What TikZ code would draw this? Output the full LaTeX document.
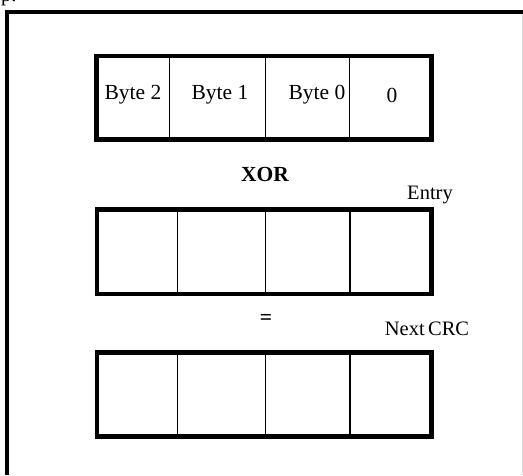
\documentclass[tikz,border=0pt]{standalone}
\usepackage{fontspec}
\setmainfont{Liberation Serif}
\begin{document}
\begin{tikzpicture}[x=1pt,y=-1pt,
  frameline/.style={line width=3.5pt,black},
  faintline/.style={line width=0.8pt,black!15},
  rowbox/.style={draw,line width=4.5pt,black},
  divider/.style={line width=1.6pt,black},
  celltext/.style={inner sep=0pt,font=\fontsize{21.5}{24}\selectfont},
  lbl/.style={inner sep=0pt,font=\fontsize{20.5}{24}\selectfont},
  op/.style={inner sep=0pt,font=\fontsize{21.5}{24}\selectfont\bfseries}]
\useasboundingbox (0,0) rectangle (523,475);
\fill[white] (0,0) rectangle (523,475);
% fragment of cut-off text at top-left
\node[lbl,anchor=base west] (frag) at (1,1) {p.};
% outer frame
\coordinate (fbl) at (7,475);
\coordinate (ftl) at (7,12);
\coordinate (ftr) at (523,12);
\draw[faintline] (522,12) -- (522,475);
\draw[frameline] (fbl) -- (ftl) -- (ftr);
% row 1
\draw[rowbox] (96.5,56) rectangle (431.5,139.5);
\draw[divider] (169.3,56) -- (169.3,139.5);
\draw[divider] (265.3,56) -- (265.3,139.5);
\draw[divider] (349.3,56) -- (349.3,139.5);
\node[celltext] (b2) at (133,95) {Byte 2};
\node[celltext] (b1) at (220,95) {Byte 1};
\node[celltext] (b0) at (317,95) {Byte 0};
\node[celltext] (z) at (392,95) {0};
% XOR
\node[op] (xor) at (265,174) {XOR};
\node[lbl,anchor=base] (entry) at (430,199.5) {Entry};
% row 2
\draw[rowbox] (97,209.5) rectangle (431.5,294);
\draw[divider] (177.3,209.5) -- (177.3,294);
\draw[divider] (265.3,209.5) -- (265.3,294);
\draw[divider] (350,209.5) -- (350,294);
% equals
\node[op] (eq) at (266,319) {=};
\node[lbl,anchor=base] (next) at (427,335) {Next\,CRC};
% row 3
\draw[rowbox] (97,352.5) rectangle (431.5,436.7);
\draw[divider] (177.3,352.5) -- (177.3,436.7);
\draw[divider] (265.3,352.5) -- (265.3,436.7);
\draw[divider] (350,352.5) -- (350,436.7);
\end{tikzpicture}
\end{document}
